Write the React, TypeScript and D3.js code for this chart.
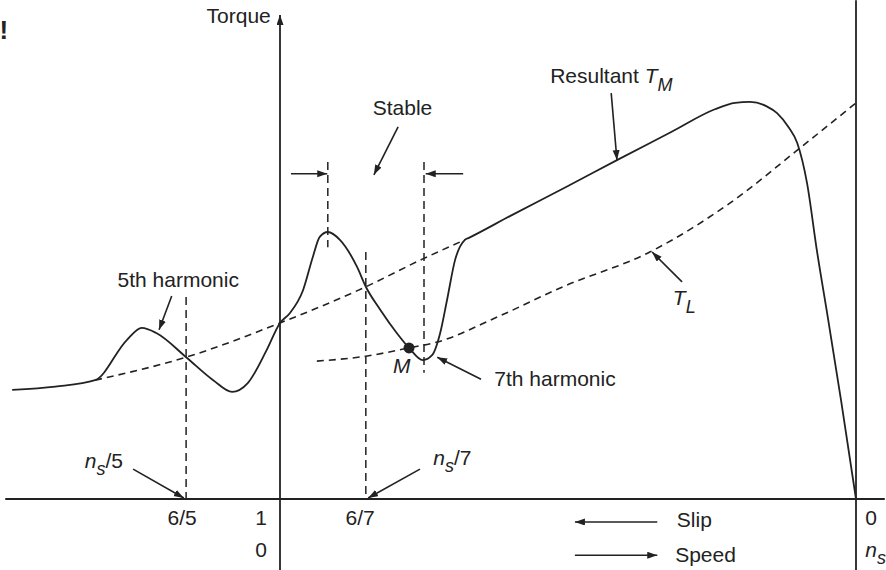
import React from "react";
import * as d3 from "d3";

// speed in units of n_s (0 = standstill, 1 = synchronous), torque in % of drawing height
const resultant: [number, number][] = [
  [-0.465, 22.3], [-0.39, 23.0], [-0.321, 24.3], [-0.266, 32.5], [-0.24, 35.0],
  [-0.214, 33.9], [-0.163, 29.0], [-0.116, 24.3], [-0.083, 21.9], [-0.056, 23.7],
  [-0.023, 30.5], [0, 36.0], [0.017, 38.0], [0.04, 42.7], [0.057, 49.5],
  [0.069, 53.6], [0.083, 54.6], [0.104, 53.0], [0.134, 47.4], [0.149, 43.4],
  [0.174, 38.7], [0.203, 33.9], [0.224, 30.9], [0.248, 28.4], [0.264, 29.4],
  [0.278, 33.9], [0.29, 40.7], [0.304, 48.9], [0.321, 53.0], [0.328, 53.4],
  [0.4, 57.9], [0.5, 64.0], [0.585, 69.3], [0.68, 75.1], [0.755, 79.7], [0.79, 81.0],
  [0.816, 81.2], [0.845, 80.3], [0.863, 78.9], [0.883, 76.0], [0.898, 72.8],
  [0.915, 64.6], [0.932, 50.9], [0.951, 37.2], [0.974, 20.2], [1.0, 0],
];

const fundamental: [number, number][] = [
  [-0.321, 24.3], [-0.163, 29.0], [0, 36.0], [0.149, 43.4], [0.248, 49.1], [0.321, 53.0],
];

const loadTorque: [number, number][] = [
  [0.064, 28.2], [0.149, 29.2], [0.224, 30.9], [0.273, 32.1], [0.377, 37.2],
  [0.491, 43.4], [0.642, 50.5], [0.781, 60.5], [0.903, 71.8], [1.0, 81.0],
];

// vertical dashed markers: speed, top, bottom
const markers: [number, number, number][] = [
  [-0.163, 41.3, 0], [0.083, 68.9, 51.5], [0.149, 50.5, 0], [0.25, 68.9, 25.8],
];

const slipTicks = [
  { text: "6/5", s: -0.17, t: -5.3 },
  { text: "1", s: -0.033, t: -5.3 },
  { text: "0", s: -0.033, t: -11.9 },
  { text: "6/7", s: 0.139, t: -5.3 },
];

const pointers: [number, number, number, number][] = [
  [0.205, 76.1, 0.163, 66.3],
  [0.019, 66.5, 0.082, 66.5],
  [0.318, 66.5, 0.253, 66.5],
  [0.575, 83.0, 0.585, 69.3],
  [0.698, 44.4, 0.646, 50.5],
  [-0.188, 41.5, -0.21, 34.6],
  [0.349, 24.5, 0.273, 29.0],
  [-0.255, 6.1, -0.167, 0.2],
  [0.243, 6.1, 0.153, 0.2],
  [0.655, -4.7, 0.512, -4.7],
  [0.512, -11.5, 0.655, -11.5],
];

export default function App() {
  const W = 886, H = 570;
  const x = d3.scaleLinear().domain([0, 1]).range([280, 856]);
  const y = d3.scaleLinear().domain([0, 100]).range([499, 10]);
  const line = d3.line<[number, number]>()
    .x(d => x(d[0]))
    .y(d => y(d[1]))
    .curve(d3.curveMonotoneX);

  const ink = "#222";
  const font = "'Liberation Sans', Arial, sans-serif";
  const fs = 21;
  const sub = 18;

  return (
    <svg width={W} height={H} style={{ position: "fixed", left: 0, top: 0, background: "#fff" }}
      fontFamily={font} fontSize={fs} fill={ink}>
      <defs>
        <marker id="ah" markerUnits="userSpaceOnUse" markerWidth={11} markerHeight={8}
          refX={10} refY={3.5} orient="auto">
          <path d="M0,0 L10,3.5 L0,7 Z" fill={ink} />
        </marker>
      </defs>

      <text x={x(-0.487)} y={y(94)} fontSize={26} fontWeight="bold">!</text>

      {/* axes */}
      <line x1={x(-0.477)} x2={x(1.05)} y1={y(0)} y2={y(0)} stroke={ink} strokeWidth={1.8} />
      <line x1={x(0)} x2={x(0)} y1={y(-14.5)} y2={y(99)} stroke={ink} strokeWidth={1.8} markerEnd="url(#ah)" />
      <line x1={x(1)} x2={x(1)} y1={y(-14.5)} y2={y(102)} stroke={ink} strokeWidth={1.8} />
      <text x={x(-0.016)} y={y(97.3)} textAnchor="end">Torque</text>

      {/* harmonic markers */}
      {markers.map(([s, t0, t1], i) => (
        <line key={i} x1={x(s)} x2={x(s)} y1={y(t0)} y2={y(t1)} stroke={ink}
          strokeWidth={1.5} strokeDasharray="8,5" />
      ))}

      <path d={line(fundamental) || ""} fill="none" stroke={ink} strokeWidth={1.6} strokeDasharray="7,5" />
      <path d={line(loadTorque) || ""} fill="none" stroke={ink} strokeWidth={1.6} strokeDasharray="7,5" />
      <path d={line(resultant) || ""} fill="none" stroke={ink} strokeWidth={1.8} />

      <circle cx={x(0.224)} cy={y(30.9)} r={5.5} fill={ink} />

      {pointers.map(([s0, t0, s1, t1], i) => (
        <line key={i} x1={x(s0)} y1={y(t0)} x2={x(s1)} y2={y(t1)} stroke={ink}
          strokeWidth={1.6} markerEnd="url(#ah)" />
      ))}

      {/* labels */}
      <text x={x(0.161)} y={y(78.5)}>Stable</text>
      <text x={x(0.469)} y={y(85.1)}>
        Resultant <tspan fontStyle="italic">T</tspan>
        <tspan fontStyle="italic" fontSize={sub} dy={8}>M</tspan>
      </text>
      <text x={x(0.682)} y={y(39.7)} fontStyle="italic">
        T<tspan fontSize={sub} dy={8}>L</tspan>
      </text>
      <text x={x(-0.282)} y={y(43.4)}>5th harmonic</text>
      <text x={x(0.372)} y={y(23.1)}>7th harmonic</text>
      <text x={x(0.196)} y={y(25.8)} fontStyle="italic">M</text>

      <text x={x(-0.339)} y={y(6.3)}>
        <tspan fontStyle="italic">n</tspan>
        <tspan fontStyle="italic" fontSize={sub} dy={7}>s</tspan>
        <tspan dy={-7}>/5</tspan>
      </text>
      <text x={x(0.266)} y={y(6.95)}>
        <tspan fontStyle="italic">n</tspan>
        <tspan fontStyle="italic" fontSize={sub} dy={7}>s</tspan>
        <tspan dy={-7}>/7</tspan>
      </text>

      {slipTicks.map((d, i) => (
        <text key={i} x={x(d.s)} y={y(d.t)} textAnchor="middle">{d.text}</text>
      ))}
      <text x={x(1.016)} y={y(-5.3)}>0</text>
      <text x={x(1.016)} y={y(-11.9)}>
        <tspan fontStyle="italic">n</tspan>
        <tspan fontStyle="italic" fontSize={sub} dy={7}>s</tspan>
      </text>

      <text x={x(0.689)} y={y(-5.7)}>Slip</text>
      <text x={x(0.686)} y={y(-12.9)}>Speed</text>
    </svg>
  );
}
